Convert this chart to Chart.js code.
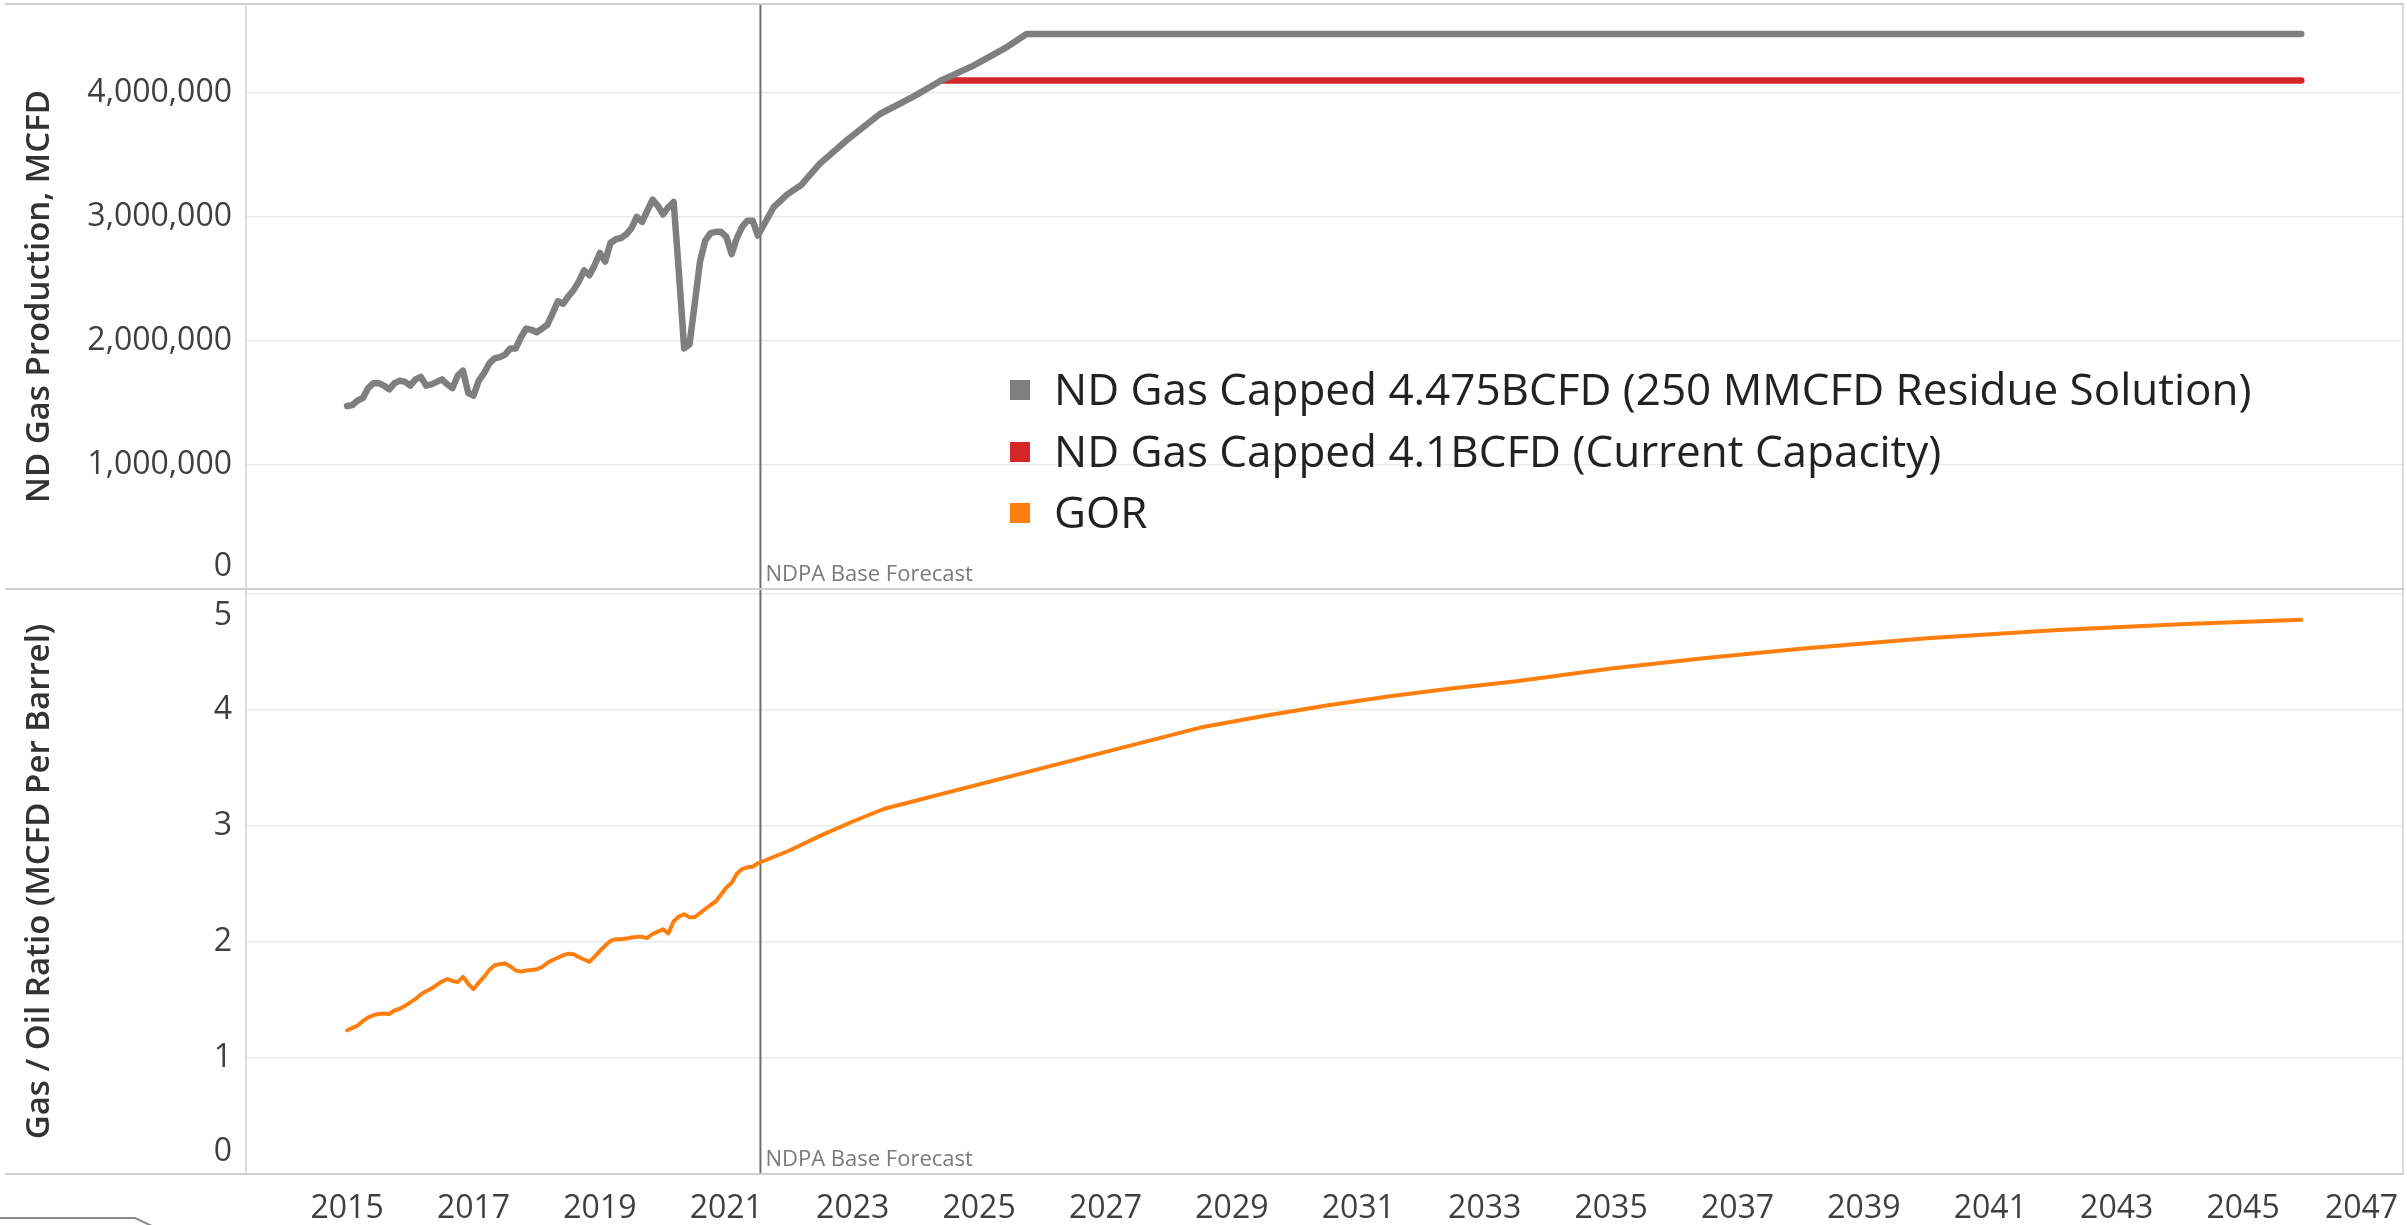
<!DOCTYPE html>
<html><head><meta charset="utf-8">
<script src="https://cdn.jsdelivr.net/npm/chart.js@4.4.1/dist/chart.umd.min.js"></script>
<style>html,body{margin:0;padding:0;background:#fff;overflow:hidden}#wrap{width:2407px;height:1225px;position:relative}canvas{display:block}</style>
</head><body><div id="wrap"><canvas id="c" width="2407" height="1225"></canvas></div>
<script>
// ---------------- data ----------------
const xTickYears = [2015,2017,2019,2021,2023,2025,2027,2029,2031,2033,2035,2037,2039,2041,2043,2045,2047];
const xMin = 2013.40, xMax = 2047.53;
const gasTicks = [0, 1000000, 2000000, 3000000, 4000000];
const gasMax = 4717000;
const gorTicks = [0, 1, 2, 3, 4, 5];
const gorMax = 5.045;

const histStartYear = 2015; // monthly history, Jan 2015 .. Jul 2021
const gasHist = [1476000,1484000,1520000,1540000,1620000,1660000,1660000,1640000,1610000,1660000,1680000,1670000,
  1640000,1690000,1710000,1640000,1650000,1670000,1690000,1650000,1620000,1720000,1760000,1580000,
  1560000,1680000,1740000,1820000,1860000,1870000,1890000,1940000,1940000,2030000,2100000,2090000,
  2070000,2100000,2130000,2220000,2320000,2300000,2360000,2410000,2480000,2570000,2530000,2610000,
  2710000,2640000,2790000,2820000,2830000,2860000,2910000,3000000,2960000,3050000,3140000,3090000,
  3020000,3080000,3120000,2550000,1940000,1970000,2300000,2640000,2810000,2870000,2880000,2880000,
  2840000,2700000,2830000,2920000,2970000,2970000,2850000];
const gorHist = [1.24,1.26,1.28,1.32,1.35,1.37,1.38,1.385,1.38,1.41,1.425,1.45,
  1.48,1.51,1.55,1.575,1.60,1.63,1.66,1.68,1.665,1.655,1.70,1.64,
  1.595,1.65,1.70,1.76,1.80,1.81,1.815,1.79,1.755,1.745,1.755,1.76,
  1.765,1.785,1.82,1.845,1.865,1.885,1.90,1.895,1.87,1.85,1.83,1.875,
  1.925,1.97,2.01,2.025,2.025,2.03,2.04,2.045,2.045,2.035,2.07,2.09,
  2.11,2.075,2.18,2.22,2.24,2.215,2.215,2.25,2.285,2.32,2.35,2.41,
  2.47,2.51,2.59,2.63,2.645,2.65,2.68];

const gasFcYears  = [2021.75,2021.96,2022.19,2022.48,2022.91,2023.43,2023.96,2024.40,2024.91,2025.44,2025.75,2045.92];
const gasFcValues = [3080000,3180000,3260000,3430000,3620000,3830000,3970000,4100000,4220000,4370000,4475000,4475000];
const capYears  = [2024.40, 2045.92];
const capValues = [4100000, 4100000];
const gorFcYears  = [2022.0,2022.5,2023.0,2023.5,2026.0,2028.5,2029.5,2030.5,2031.5,2032.5,2033.5,2035.0,2036.5,2038.0,2040.0,2042.0,2044.0,2045.92];
const gorFcValues = [2.79,2.92,3.04,3.15,3.50,3.85,3.95,4.04,4.12,4.19,4.25,4.36,4.45,4.53,4.62,4.69,4.74,4.78];

const forecastStart = 2021.54;
const refLabel = 'NDPA Base Forecast';
const seriesNames = ['ND Gas Capped 4.475BCFD (250 MMCFD Residue Solution)', 'ND Gas Capped 4.1BCFD (Current Capacity)', 'GOR'];
const axisTitles = ['ND Gas Production, MCFD', 'Gas / Oil Ratio (MCFD Per Barrel)'];

// ---------------- styles ----------------
const colors = ['#7f7f7f', '#d62728', '#ff7f0e'];
const tickFont = {family: '"Open Sans", sans-serif', size: 32, weight: 400, lineHeight: 1.36};
const xTickFont = {family: '"Open Sans", sans-serif', size: 32, weight: 400, lineHeight: 1.2};
const tickColor = '#3f3f3f';
const titleFont = {family: '"Open Sans", sans-serif', size: 33, weight: 600};

const toPts = (xs, ys) => xs.map((x, i) => ({x: x, y: ys[i]}));
const gasData = gasHist.map((v, i) => ({x: histStartYear + i / 12, y: v})).concat(toPts(gasFcYears, gasFcValues));
const capData = toPts(capYears, capValues);
const gorData = gorHist.map((v, i) => ({x: histStartYear + i / 12, y: v})).concat(toPts(gorFcYears, gorFcValues));

const decor = {
  id: 'decor',
  beforeDatasetsDraw(chart) {
    const {ctx, chartArea: a, scales} = chart;
    const fx = scales.x.getPixelForValue(forecastStart);
    ctx.save();
    ctx.strokeStyle = '#6f6f6f'; ctx.lineWidth = 2;
    ctx.beginPath(); ctx.moveTo(fx, a.top); ctx.lineTo(fx, a.bottom); ctx.stroke();
    ctx.restore();
  },
  afterDraw(chart) {
    const {ctx, chartArea: a, scales} = chart;
    const fx = scales.x.getPixelForValue(forecastStart);
    ctx.save();
    ctx.strokeStyle = '#d0d0d0'; ctx.lineWidth = 2;
    [a.top, scales.yGas.bottom, a.bottom].forEach(y => {
      ctx.beginPath(); ctx.moveTo(5, y); ctx.lineTo(a.right + 1, y); ctx.stroke();
    });
    ctx.lineWidth = 1.5;
    [a.left, a.right].forEach(x => {
      ctx.beginPath(); ctx.moveTo(x, a.top); ctx.lineTo(x, a.bottom); ctx.stroke();
    });
    // reference line labels
    ctx.font = '22px "Open Sans", sans-serif'; ctx.fillStyle = '#7a7a7a';
    ctx.textAlign = 'left'; ctx.textBaseline = 'alphabetic';
    [scales.yGas.bottom, scales.yGor.bottom].forEach(b => ctx.fillText(refLabel, fx + 5, b - 8));
    // legend
    const lx = a.left + 764, rowY = [386, 448, 509];
    ctx.font = '44px "Open Sans", sans-serif';
    seriesNames.forEach((name, i) => {
      const cy = a.top + rowY[i];
      ctx.fillStyle = colors[i];
      ctx.fillRect(lx, cy - 10, 20, 20);
      ctx.fillStyle = '#222';
      ctx.fillText(name, lx + 44, cy + 15);
    });
    // cropped tab outline at bottom-left
    ctx.strokeStyle = '#8a8a8a'; ctx.lineWidth = 2;
    ctx.beginPath(); ctx.moveTo(0, 1218); ctx.lineTo(135, 1218); ctx.lineTo(152, 1226); ctx.stroke();
    ctx.restore();
  }
};

const yCommon = (ticksArr, maxV, title, fmt) => ({
  type: 'linear', position: 'left', stack: 'panels', stackWeight: 1,
  min: 0, max: maxV,
  afterBuildTicks: s => { s.ticks = ticksArr.map(v => ({value: v})); },
  afterFit: s => { s.width = 246; s.paddingTop = 0; s.paddingBottom = 0; },
  grid: {color: '#ebebeb', lineWidth: 1.5, drawTicks: false},
  border: {display: false},
  ticks: {font: tickFont, color: tickColor, padding: 14, autoSkip: false, callback: fmt},
  title: {display: true, text: title, font: titleFont, color: '#333', padding: {top: 20, bottom: 0}}
});

new Chart(document.getElementById('c'), {
  type: 'line',
  data: {
    datasets: [
      {label: seriesNames[0], data: gasData, yAxisID: 'yGas', borderColor: colors[0], borderWidth: 6.5, order: 1},
      {label: seriesNames[1], data: capData, yAxisID: 'yGas', borderColor: colors[1], borderWidth: 6.5, order: 2},
      {label: seriesNames[2], data: gorData, yAxisID: 'yGor', borderColor: colors[2], borderWidth: 4, order: 3}
    ]
  },
  options: {
    responsive: false, devicePixelRatio: 1, animation: false,
    layout: {padding: {top: 4, right: 4, bottom: 0, left: 0}},
    elements: {
      point: {radius: 0, hoverRadius: 0},
      line: {tension: 0, borderJoinStyle: 'round', borderCapStyle: 'round', fill: false}
    },
    plugins: {legend: {display: false}, tooltip: {enabled: false}},
    scales: {
      x: {
        type: 'linear', position: 'bottom', min: xMin, max: xMax,
        afterBuildTicks: s => { s.ticks = xTickYears.map(v => ({value: v})); },
        afterFit: s => { s.height = 51; s.paddingLeft = 0; s.paddingRight = 0; },
        grid: {display: false, drawTicks: false}, border: {display: false},
        ticks: {font: xTickFont, color: tickColor, padding: 16, maxRotation: 0, autoSkip: false,
          // last label nudged inward (trailing space) as the original keeps it inside the frame
          callback: (v, i, arr) => i === arr.length - 1 ? String(v) + '\u2002' : String(v)}
      },
      yGor: yCommon(gorTicks, gorMax, axisTitles[1], v => v === 0 ? ['0', ''] : (v === 5 ? ['', '5'] : String(v))),
      yGas: yCommon(gasTicks, gasMax, axisTitles[0], v => v === 0 ? ['0', ''] : v.toLocaleString('en-US'))
    }
  },
  plugins: [decor]
});
</script></body></html>
